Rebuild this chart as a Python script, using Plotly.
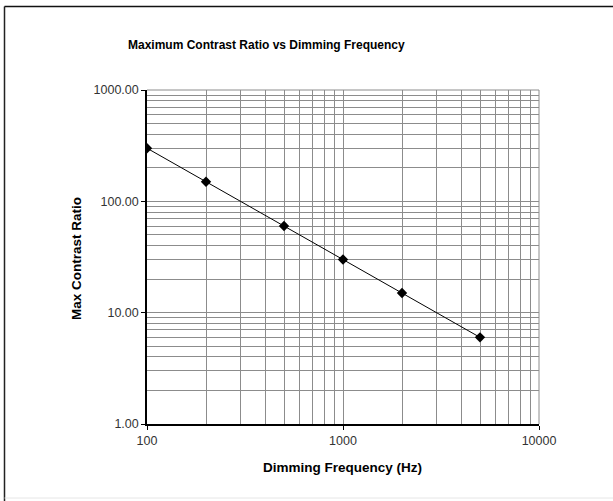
import plotly.graph_objects as go

# dimming frequency (Hz) and max contrast ratio
freq = [100, 200, 500, 1000, 2000, 5000]
contrast = [300, 150, 60, 30, 15, 6]

x_ticks = [100, 1000, 10000]
y_ticks = [1, 10, 100, 1000]

# plot area in pixels (613x501 page)
L, R, T, B = 147, 539, 90, 424
W, H = 613, 501
pw, ph = R - L, B - T


def px(x):
    return (x - L) / pw


def py(y):
    return (B - y) / ph


fig = go.Figure()

fig.add_trace(
    go.Scatter(
        x=freq,
        y=contrast,
        mode='lines+markers',
        line=dict(color='black', width=1),
        marker=dict(symbol='diamond', size=8, color='black'),
        showlegend=False
    )
)

font = 'Liberation Sans, Arial, sans-serif'
grid = '#8c8c8c'
tick_font = dict(family=font, size=12.5, color='#333')

fig.update_xaxes(
    type='log',
    range=[2, 4],
    tickvals=x_ticks,
    ticktext=[str(v) for v in x_ticks],
    showgrid=True,
    gridcolor=grid,
    gridwidth=1,
    minor=dict(dtick='D1', showgrid=True, gridcolor=grid, gridwidth=1, ticks=''),
    showline=True,
    linecolor='black',
    linewidth=1.5,
    ticks='outside',
    ticklen=4,
    tickcolor='black',
    tickfont=tick_font,
    zeroline=False
)

fig.update_yaxes(
    type='log',
    range=[0, 3],
    tickvals=y_ticks,
    ticktext=['%.2f' % v for v in y_ticks],
    showgrid=True,
    gridcolor=grid,
    gridwidth=1,
    minor=dict(dtick='D1', showgrid=True, gridcolor=grid, gridwidth=1, ticks=''),
    showline=True,
    linecolor='black',
    linewidth=1.5,
    ticks='outside',
    ticklen=4,
    tickcolor='black',
    tickfont=tick_font,
    zeroline=False
)

# right / top edges of the plot area are grey grid lines
shapes = [
    dict(type='line', xref='paper', yref='paper', x0=1, x1=1, y0=0, y1=1,
         line=dict(color=grid, width=1)),
    dict(type='line', xref='paper', yref='paper', x0=0, x1=1, y0=1, y1=1,
         line=dict(color=grid, width=1)),
    # chart frame (only left and top edges are visible)
    dict(type='line', xref='paper', yref='paper', x0=px(4.5), x1=px(4.5), y0=py(6.5), y1=py(501),
         line=dict(color='#222', width=1.5)),
    dict(type='line', xref='paper', yref='paper', x0=px(4.5), x1=px(613), y0=py(6.5), y1=py(6.5),
         line=dict(color='#111', width=1.5)),
    dict(type='line', xref='paper', yref='paper', x0=px(4.5), x1=px(613), y0=py(498), y1=py(498),
         line=dict(color='#e6e6e6', width=1)),
]

annotations = [
    dict(text='<b>Maximum Contrast Ratio vs Dimming Frequency</b>',
         xref='paper', yref='paper', x=px(266), y=py(45),
         xanchor='center', yanchor='middle', showarrow=False,
         font=dict(family=font, size=12, color='black')),
    dict(text='<b>Dimming Frequency (Hz)</b>',
         xref='paper', yref='paper', x=px(342), y=py(467),
         xanchor='center', yanchor='middle', showarrow=False,
         font=dict(family=font, size=13.5, color='black')),
    dict(text='<b>Max Contrast Ratio</b>',
         xref='paper', yref='paper', x=px(76), y=py(259),
         xanchor='center', yanchor='middle', showarrow=False, textangle=-90,
         font=dict(family=font, size=13.5, color='black')),
]

fig.update_layout(
    width=W,
    height=H,
    margin=dict(l=L, r=W - R, t=T, b=H - B),
    paper_bgcolor='white',
    plot_bgcolor='white',
    shapes=shapes,
    annotations=annotations
)

# drop the browser's default body margin so the figure sits at the page corner
fig.write_html(
    'out.html',
    config={'displayModeBar': False},
    post_script="document.body.style.margin='0';"
)
